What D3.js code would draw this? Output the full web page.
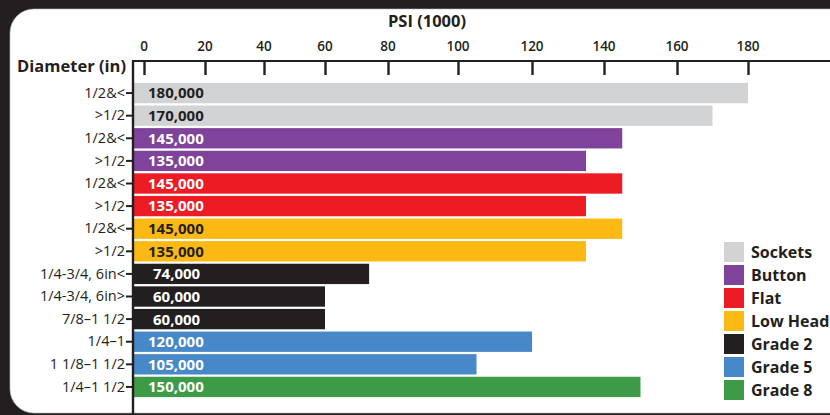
<!DOCTYPE html>
<html>
<head>
<meta charset="utf-8">
<script src="https://cdn.jsdelivr.net/npm/d3@7"></script>
<style>
  html, body { margin: 0; padding: 0; background: #231f20; }
  svg { display: block; }
  text { font-family: "Open Sans", "Noto Sans", sans-serif; fill: #231f20; }
</style>
</head>
<body>
<svg id="chart" width="830" height="415"></svg>
<script>
// ---- data ----
const rowLabels = ["1/2&<", ">1/2", "1/2&<", ">1/2", "1/2&<", ">1/2", "1/2&<", ">1/2",
  "1/4-3/4, 6in<", "1/4-3/4, 6in>", "7/8–1 1/2", "1/4–1", "1 1/8–1 1/2", "1/4–1 1/2"];
const psiValues = [180000, 170000, 145000, 135000, 145000, 135000, 145000, 135000,
  74000, 60000, 60000, 120000, 105000, 150000];
const rowTypes = ["Sockets", "Sockets", "Button", "Button", "Flat", "Flat", "Low Head", "Low Head",
  "Grade 2", "Grade 2", "Grade 2", "Grade 5", "Grade 5", "Grade 8"];
const legendNames = ["Sockets", "Button", "Flat", "Low Head", "Grade 2", "Grade 5", "Grade 8"];
const xTickValues = [0, 20, 40, 60, 80, 100, 120, 140, 160, 180];
const xTitle = "PSI (1000)";
const yTitle = "Diameter (in)";

// ---- styles / layout ----
const typeColors = ["#d1d3d4", "#80439b", "#ed1c24", "#fdb913", "#231f20", "#4688c8", "#3d9b47"];
const darkText = new Set(["Sockets", "Low Head"]);
// the original artwork's axis is drawn with uneven tick spacing; reproduce it
const xTickPixels = [144, 205, 264, 325, 388, 458, 532, 604, 677, 748];

const svg = d3.select("#chart");
const ink = "#231f20";

// white panel
svg.append("rect").attr("x", 10).attr("y", 9).attr("width", 850).attr("height", 404)
  .attr("rx", 24).attr("fill", "#ffffff").attr("stroke", "#bcbec0").attr("stroke-width", 0.6);

const x = d3.scaleLinear().domain(xTickValues).range(xTickPixels);
const color = d3.scaleOrdinal().domain(legendNames).range(typeColors);
const y = d3.scaleBand().domain(d3.range(rowLabels.length)).range([82, 398])
  .paddingInner(0.1).paddingOuter(0.04);

const axisX0 = 133, axisY0 = 61;

// bars
const rows = psiValues.map((v, i) => ({ i, v, label: rowLabels[i], type: rowTypes[i] }));
svg.append("g").selectAll("rect").data(rows).join("rect")
  .attr("x", axisX0)
  .attr("y", d => y(d.i))
  .attr("width", d => x(d.v / 1000) - axisX0)
  .attr("height", y.bandwidth())
  .attr("fill", d => color(d.type));

// value labels
svg.append("g").selectAll("text").data(rows).join("text")
  .attr("x", d => d.type === "Grade 2" ? 153 : 148)
  .attr("y", d => y(d.i) + y.bandwidth() / 2)
  .attr("dy", "0.36em")
  .attr("font-size", 15).attr("font-weight", 700)
  .style("fill", d => darkText.has(d.type) ? ink : "#ffffff")
  .text(d => d3.format(",")(d.v));

// top axis
const gx = svg.append("g").attr("transform", `translate(0,${axisY0})`)
  .call(d3.axisBottom(x).tickValues(xTickValues).tickSize(14).tickFormat(d3.format("d")));
gx.select(".domain").remove();
gx.selectAll(".tick line").attr("stroke", ink).attr("stroke-width", 2.4);
gx.selectAll(".tick text").remove();
svg.append("g").selectAll("text").data(xTickValues).join("text")
  .attr("x", d => x(d)).attr("y", 51).attr("text-anchor", "middle")
  .attr("font-size", 13.5).attr("font-weight", 600).text(d => d);
svg.append("line").attr("x1", axisX0 - 1).attr("x2", 830).attr("y1", axisY0).attr("y2", axisY0)
  .attr("stroke", ink).attr("stroke-width", 2.2);

// left axis
const gy = svg.append("g").attr("transform", `translate(${axisX0},0)`)
  .call(d3.axisLeft(y).tickSize(7).tickPadding(1).tickFormat(i => rowLabels[i]));
gy.attr("font-size", null).attr("font-family", null);
gy.select(".domain").remove();
gy.selectAll(".tick line").attr("stroke", ink).attr("stroke-width", 2);
gy.selectAll(".tick text").style("font-size", "14.5px")
  .style("font-family", "\"Open Sans\", sans-serif").style("fill", ink);
svg.append("line").attr("x1", axisX0).attr("x2", axisX0).attr("y1", axisY0 - 1).attr("y2", 415)
  .attr("stroke", ink).attr("stroke-width", 2.4);

// titles
svg.append("text").attr("x", 427).attr("y", 27).attr("text-anchor", "middle")
  .attr("font-size", 16.5).attr("font-weight", 700).text(xTitle);
svg.append("text").attr("x", 126).attr("y", 72).attr("text-anchor", "end")
  .attr("font-size", 16.5).attr("font-weight", 700).text(yTitle);

// legend
const lg = svg.append("g").selectAll("g").data(legendNames).join("g")
  .attr("transform", (d, i) => `translate(724,${242 + i * 23})`);
lg.append("rect").attr("width", 20).attr("height", 20).attr("fill", d => color(d));
lg.append("text").attr("x", 27).attr("y", 10).attr("dy", "0.36em")
  .attr("font-size", 16).attr("font-weight", 700).text(d => d);
</script>
</body>
</html>
